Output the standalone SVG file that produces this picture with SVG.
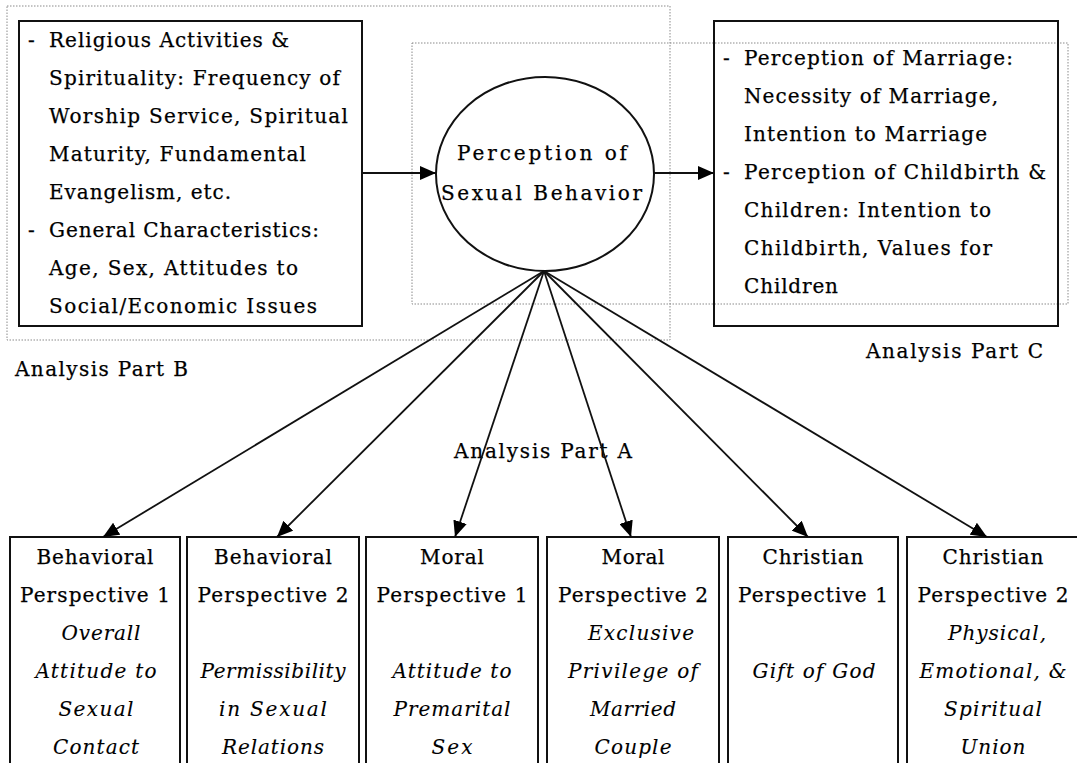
<svg xmlns="http://www.w3.org/2000/svg" width="1077" height="763" viewBox="0 0 1077 763">
<style>
text{font-family:"DejaVu Serif","Liberation Serif",serif;font-size:20px;fill:#000;stroke:#000;stroke-width:0.25}
.it{font-style:italic;stroke-width:0.1}
.mid{text-anchor:middle}
.box{fill:#fff;stroke:#111;stroke-width:2}
.dot{fill:none;stroke:#8a8a8a;stroke-width:1;stroke-dasharray:1.5,1.5}
.conn{stroke:#111;stroke-width:1.8;fill:none}
</style>
<defs>
<marker id="ah" markerUnits="userSpaceOnUse" markerWidth="18" markerHeight="14" refX="16" refY="7" orient="auto">
<path d="M0,0 L16,7 L0,14 Z" fill="#000"/>
</marker>
</defs>
<rect fill="#fff" width="1077" height="763"/>
<g id="regions">
<rect class="dot" x="7" y="6" width="663" height="334"/>
<rect class="dot" x="412" y="43" width="656" height="261"/>
</g>
<g id="node-b">
<rect class="box" x="19" y="21" width="343" height="305"/>
<text x="28" y="47">-</text><text x="49" y="47" textLength="240" lengthAdjust="spacing">Religious Activities &amp;</text>
<text x="49" y="85" textLength="291" lengthAdjust="spacing">Spirituality: Frequency of</text>
<text x="49" y="123" textLength="299" lengthAdjust="spacing">Worship Service, Spiritual</text>
<text x="49" y="161" textLength="257" lengthAdjust="spacing">Maturity, Fundamental</text>
<text x="49" y="199" textLength="182" lengthAdjust="spacing">Evangelism, etc.</text>
<text x="28" y="237">-</text><text x="49" y="237" textLength="270" lengthAdjust="spacing">General Characteristics:</text>
<text x="49" y="275" textLength="249" lengthAdjust="spacing">Age, Sex, Attitudes to</text>
<text x="49" y="313" textLength="268" lengthAdjust="spacing">Social/Economic Issues</text>
</g>
<g id="node-center">
<ellipse cx="545" cy="174" rx="109" ry="97" fill="#fff" stroke="#111" stroke-width="2"/>
<text x="457" y="160" textLength="170" lengthAdjust="spacing">Perception of</text>
<text x="441" y="200" textLength="201" lengthAdjust="spacing">Sexual Behavior</text>
</g>
<g id="node-c">
<rect class="box" x="714" y="21" width="344" height="305" style="fill:none"/>
<text x="723" y="65">-</text><text x="744" y="65" textLength="269" lengthAdjust="spacing">Perception of Marriage:</text>
<text x="744" y="103" textLength="254" lengthAdjust="spacing">Necessity of Marriage,</text>
<text x="744" y="141" textLength="243" lengthAdjust="spacing">Intention to Marriage</text>
<text x="723" y="179">-</text><text x="744" y="179" textLength="302" lengthAdjust="spacing">Perception of Childbirth &amp;</text>
<text x="744" y="217" textLength="247" lengthAdjust="spacing">Children: Intention to</text>
<text x="744" y="255" textLength="248" lengthAdjust="spacing">Childbirth, Values for</text>
<text x="744" y="293" textLength="94" lengthAdjust="spacing">Children</text>
</g>
<g id="labels">
<text x="15" y="376" textLength="173" lengthAdjust="spacing">Analysis Part B</text>
<text x="866" y="358" textLength="177" lengthAdjust="spacing">Analysis Part C</text>
<text x="454" y="458" textLength="178" lengthAdjust="spacing">Analysis Part A</text>
</g>
<g id="p1">
<rect class="box" x="10" y="537" width="170" height="240"/>
<text class="mid" x="95" y="564" textLength="117" lengthAdjust="spacing">Behavioral</text>
<text class="mid" x="95" y="602" textLength="150" lengthAdjust="spacing">Perspective 1</text>
<text class="mid it" x="101" y="640" textLength="79" lengthAdjust="spacing">Overall</text>
<text class="mid it" x="96" y="678" textLength="121" lengthAdjust="spacing">Attitude to</text>
<text class="mid it" x="96" y="716" textLength="75" lengthAdjust="spacing">Sexual</text>
<text class="mid it" x="96" y="754" textLength="86" lengthAdjust="spacing">Contact</text>
</g>
<g id="p2">
<rect class="box" x="187" y="537" width="172" height="240"/>
<text class="mid" x="273" y="564" textLength="118" lengthAdjust="spacing">Behavioral</text>
<text class="mid" x="273" y="602" textLength="151" lengthAdjust="spacing">Perspective 2</text>
<text class="mid it" x="273" y="678" textLength="145" lengthAdjust="spacing">Permissibility</text>
<text class="mid it" x="273" y="716" textLength="108" lengthAdjust="spacing">in Sexual</text>
<text class="mid it" x="273" y="754" textLength="102" lengthAdjust="spacing">Relations</text>
</g>
<g id="p3">
<rect class="box" x="366" y="537" width="172" height="240"/>
<text class="mid" x="452" y="564" textLength="64" lengthAdjust="spacing">Moral</text>
<text class="mid" x="452" y="602" textLength="151" lengthAdjust="spacing">Perspective 1</text>
<text class="mid it" x="452" y="678" textLength="119" lengthAdjust="spacing">Attitude to</text>
<text class="mid it" x="452" y="716" textLength="117" lengthAdjust="spacing">Premarital</text>
<text class="mid it" x="452" y="754" textLength="41" lengthAdjust="spacing">Sex</text>
</g>
<g id="p4">
<rect class="box" x="547" y="537" width="172" height="240"/>
<text class="mid" x="633" y="564" textLength="63" lengthAdjust="spacing">Moral</text>
<text class="mid" x="633" y="602" textLength="150" lengthAdjust="spacing">Perspective 2</text>
<text class="mid it" x="641" y="640" textLength="106" lengthAdjust="spacing">Exclusive</text>
<text class="mid it" x="633" y="678" textLength="130" lengthAdjust="spacing">Privilege of</text>
<text class="mid it" x="633" y="716" textLength="86" lengthAdjust="spacing">Married</text>
<text class="mid it" x="633" y="754" textLength="77" lengthAdjust="spacing">Couple</text>
</g>
<g id="p5">
<rect class="box" x="728" y="537" width="170" height="240"/>
<text class="mid" x="813" y="564" textLength="101" lengthAdjust="spacing">Christian</text>
<text class="mid" x="813" y="602" textLength="150" lengthAdjust="spacing">Perspective 1</text>
<text class="mid it" x="814" y="678" textLength="123" lengthAdjust="spacing">Gift of God</text>
</g>
<g id="p6">
<rect class="box" x="907" y="537" width="172" height="240"/>
<text class="mid" x="993" y="564" textLength="101" lengthAdjust="spacing">Christian</text>
<text class="mid" x="993" y="602" textLength="151" lengthAdjust="spacing">Perspective 2</text>
<text class="mid it" x="997" y="640" textLength="98" lengthAdjust="spacing">Physical,</text>
<text class="mid it" x="993" y="678" textLength="147" lengthAdjust="spacing">Emotional, &amp;</text>
<text class="mid it" x="993" y="716" textLength="98" lengthAdjust="spacing">Spiritual</text>
<text class="mid it" x="993" y="754" textLength="65" lengthAdjust="spacing">Union</text>
</g>
<g id="connectors">
<line class="conn" x1="362" y1="173" x2="436" y2="173" marker-end="url(#ah)"/>
<line class="conn" x1="654" y1="173" x2="714" y2="173" marker-end="url(#ah)"/>
<line class="conn" x1="544" y1="271" x2="103" y2="537" marker-end="url(#ah)"/>
<line class="conn" x1="544" y1="271" x2="277" y2="537" marker-end="url(#ah)"/>
<line class="conn" x1="544" y1="271" x2="455" y2="537" marker-end="url(#ah)"/>
<line class="conn" x1="544" y1="271" x2="631" y2="537" marker-end="url(#ah)"/>
<line class="conn" x1="544" y1="271" x2="808" y2="537" marker-end="url(#ah)"/>
<line class="conn" x1="544" y1="271" x2="987" y2="537" marker-end="url(#ah)"/>
</g>
</svg>
